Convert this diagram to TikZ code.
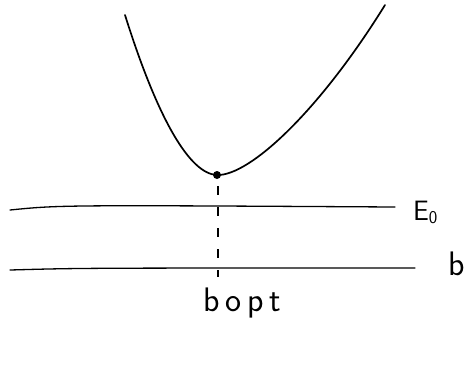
\documentclass[tikz,border=0pt]{standalone}
\begin{document}
\begin{tikzpicture}[x=1pt,y=-1pt,
  curve/.style={line width=1.7pt,line cap=round},
  axis/.style={line width=1.3pt,line cap=round},
  guide/.style={line width=1.4pt,dashed,dash pattern=on 9pt off 12pt},
  lbl/.style={font=\sffamily\fontsize{34}{36}\selectfont,inner sep=0pt}]
\useasboundingbox (0,0) rectangle (470,365);
\fill[white] (0,0) rectangle (470,365);
\coordinate (pl) at (125,15);
\coordinate (pm) at (217,175);
\coordinate (pr) at (385,5);
\draw[curve] (pl) .. controls (158,120) and (190,174) .. (pm)
  .. controls (250,176) and (320,110) .. (pr);
\fill (pm) circle (4pt);
\coordinate (e1) at (10,210);
\coordinate (e2) at (395,207);
\draw[axis] (e1) .. controls (60,205) .. (e2);
\coordinate (b1) at (10,270);
\coordinate (b2) at (415,268);
\draw[axis] (b1) .. controls (80,268) .. (b2);
\node[lbl,anchor=west,font=\sffamily\fontsize{28}{30}\selectfont] (E) at (413,212) {E\raisebox{-0.25ex}{\fontsize{18}{20}\selectfont 0}};
\node[lbl,anchor=west] (B) at (448,264) {b};
\node[lbl] (bopt) at (242,303) {b\,o\,p\,t};
\coordinate (d1) at (218,186);
\coordinate (d2) at (218,277);
\draw[guide] (d1) -- (d2);
\end{tikzpicture}
\end{document}
